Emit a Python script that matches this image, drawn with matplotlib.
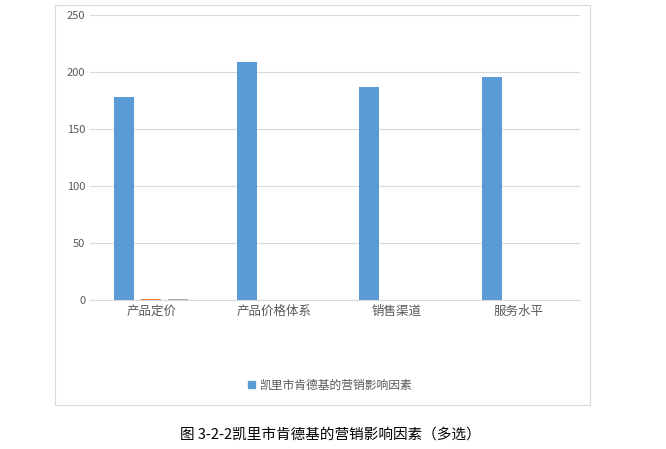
import matplotlib.pyplot as plt
import matplotlib.patches as mp

plt.rcParams['font.family'] = 'Noto Sans CJK SC'
categories = ['产品定价', '产品价格体系', '销售渠道', '服务水平']
series1 = [178, 209, 187, 196]
series2 = [1, 0, 0, 0]
series3 = [1, 0, 0, 0]
yticks = [0, 50, 100, 150, 200, 250]

fig = plt.figure(figsize=(6.66, 4.49), dpi=100)
fig.patches.append(mp.Rectangle((55/666, 1-405/449), 535/666, 400/449, transform=fig.transFigure,
                                fill=False, edgecolor='#d9d9d9', lw=0.8))
ax = fig.add_axes([90/666, 1-300/449, 490/666, 285/449])
x = range(len(categories))
w = 0.165
ax.bar([i - 0.22 for i in x], series1, w, color='#5b9bd5', label='凯里市肯德基的营销影响因素')
ax.bar([i for i in x], series2, w, color='#ed7d31')
ax.bar([i + 0.22 for i in x], series3, w, color='#a5a5a5')
ax.set_ylim(0, 250)
ax.set_xlim(-0.5, 3.5)
ax.set_yticks(yticks)
ax.set_xticks(list(x))
ax.set_xticklabels(categories, fontsize=9, color='#595959')
ax.tick_params(axis='y', labelsize=8, colors='#595959', length=0)
ax.tick_params(axis='x', length=0)
ax.grid(axis='y', color='#d9d9d9', lw=0.8)
ax.set_axisbelow(True)
for s in ['top', 'right', 'left']:
    ax.spines[s].set_visible(False)
ax.spines['bottom'].set_color('#d9d9d9')
fig.legend(handles=[mp.Patch(color='#5b9bd5')], labels=['凯里市肯德基的营销影响因素'],
           loc='center', bbox_to_anchor=(330/666, 1-385/449), frameon=False, fontsize=8.5,
           handlelength=0.6, handleheight=0.6, handletextpad=0.3, labelcolor='#595959')
fig.text(330/666, 1-435/449, '图 3-2-2凯里市肯德基的营销影响因素（多选）', ha='center', va='center', fontsize=10.5)
fig.savefig('out.png')
